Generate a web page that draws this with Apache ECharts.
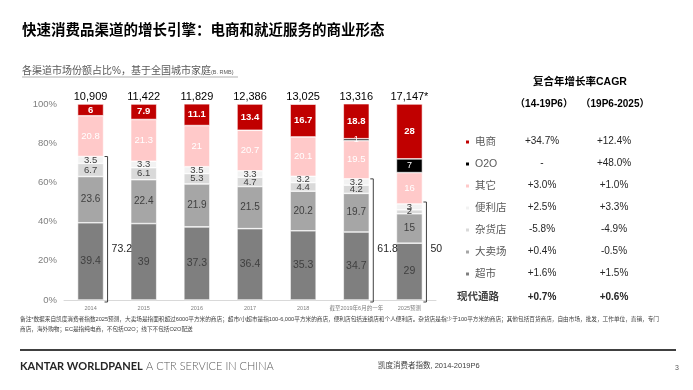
<!DOCTYPE html>
<html><head><meta charset="utf-8">
<script src="https://cdn.jsdelivr.net/npm/echarts@6/dist/echarts.min.js"></script>
<style>html,body{margin:0;padding:0;background:#fff}#c{width:693px;height:390px}</style>
</head><body><div id="c"></div>
<script>
const years = ['2014','2015','2016','2017','2018','截至2019年6月的一年','2025预测'];
const totals = ['10,909','11,422','11,829','12,386','13,025','13,316','17,147*'];
const chaoshi = [39.4, 39, 37.3, 36.4, 35.3, 34.7, 29];
const maichang = [23.6, 22.4, 21.9, 21.5, 20.2, 19.7, 15];
const zahuo = [6.7, 6.1, 5.3, 4.7, 4.4, 4.2, 2];
const bianli = [3.5, 3.3, 3.5, 3.3, 3.2, 3.2, 3];
const qita = [20.8, 21.3, 21, 20.7, 20.1, 19.5, 16];
const o2o = [null, null, null, null, null, 1, 7];
const dianshang = [6, 7.9, 11.1, 13.4, 16.7, 18.8, 28];
const modernTotals = [[0, 73.2], [5, 61.8], [6, 50]];
const legendNames = ['电商','O2O','其它','便利店','杂货店','大卖场','超市'];
const cagr1 = ['+34.7%','-','+3.0%','+2.5%','-5.8%','+0.4%','+1.6%','+0.7%'];
const cagr2 = ['+12.4%','+48.0%','+1.0%','+3.3%','-4.9%','-0.5%','+1.5%','+0.6%'];
const footLine1 = '备注*数据来自凯度消费者指数2025预测，大卖场是指面积超过6000平方米的商店；超市/小超市是指100-6,000平方米的商店，便利店包括连锁店和个人便利店。杂货店是指少于100平方米的商店；其他包括百货商店，自由市场，批发，工作单位，直销，专门';
const footLine2 = '商店，海外购物；EC是指纯电商，不包括O2O；线下不包括O2O配送';

const FF = '"Liberation Sans", Arial, "Noto Sans CJK SC", sans-serif';
const chart = echarts.init(document.getElementById('c'), null, {renderer: 'canvas'});

function barSeries(name, data, color, labelColor, bold, fs) {
  return {
    name, type: 'bar', stack: 'share', data, barWidth: 26,
    itemStyle: {color, borderColor: '#fff', borderWidth: 0.6},
    label: {show: true, position: 'inside', color: labelColor, fontSize: fs || 10,
      fontWeight: bold ? 'bold' : 'normal', fontFamily: FF,
      formatter: p => (p.value == null ? '' : String(p.value))},
    emphasis: {disabled: true}
  };
}

const rowY = [141, 163, 185, 207, 229, 251, 273, 297];
const graphics = [
  {type: 'text', left: 22, top: 24, style: {text: '快速消费品渠道的增长引擎：电商和就近服务的商业形态', fontSize: 14.5, fontWeight: 'bold', fill: '#000', fontFamily: FF}},
  {type: 'text', left: 22, top: 66, style: {text: '各渠道市场份额占比%，基于全国城市家庭', fontSize: 10, fill: '#595959', fontFamily: FF}},
  {type: 'text', left: 211, top: 70, style: {text: '(B. RMB)', fontSize: 5.5, fill: '#595959', fontFamily: FF}},
  {type: 'line', shape: {x1: 22, y1: 77, x2: 238, y2: 77}, style: {stroke: '#8c8c8c', lineWidth: 0.7}},
  {type: 'text', x: 580, y: 82, style: {text: '复合年增长率CAGR', fontSize: 10.5, fontWeight: 'bold', fill: '#000', fontFamily: FF, align: 'center', verticalAlign: 'middle'}},
  {type: 'text', x: 544, y: 104, style: {text: '（14-19P6）', fontSize: 10, fontWeight: 'bold', fill: '#000', fontFamily: FF, align: 'center', verticalAlign: 'middle'}},
  {type: 'text', x: 615, y: 104, style: {text: '（19P6-2025）', fontSize: 10, fontWeight: 'bold', fill: '#000', fontFamily: FF, align: 'center', verticalAlign: 'middle'}},
  {type: 'text', x: 457, y: 297, style: {text: '现代通路', fontSize: 10.5, fontWeight: 'bold', fill: '#404040', fontFamily: FF, verticalAlign: 'middle'}},
  {type: 'text', left: 20, top: 317, style: {text: footLine1, fontSize: 5.65, fill: '#404040', fontFamily: FF}},
  {type: 'text', left: 20, top: 327, style: {text: footLine2, fontSize: 5.65, fill: '#404040', fontFamily: FF}},
  {type: 'line', shape: {x1: 20, y1: 350, x2: 676, y2: 350}, style: {stroke: '#404040', lineWidth: 2}},
  {type: 'text', left: 20, top: 360, style: {text: '{b|KANTAR WORLDPANEL} {l|A CTR SERVICE IN CHINA}', rich: {
      b: {fontSize: 11, fontWeight: 'bold', fill: '#262626', fontFamily: 'Lato, "Liberation Sans", sans-serif'},
      l: {fontSize: 11, fontWeight: 300, fill: '#595959', fontFamily: 'Lato, "Liberation Sans", sans-serif'}}}},
  {type: 'text', left: 378, top: 362, style: {text: '凯度消费者指数, 2014-2019P6', fontSize: 7.5, fill: '#404040', fontFamily: FF}},
  {type: 'text', left: 675, top: 365, style: {text: '3', fontSize: 7, fill: '#595959', fontFamily: FF}}
];
for (let i = 0; i < rowY.length; i++) {
  const bold = i === rowY.length - 1;
  graphics.push({type: 'text', x: 542, y: rowY[i], style: {text: cagr1[i], fontSize: 10, fontWeight: bold ? 'bold' : 'normal', fill: '#262626', fontFamily: FF, align: 'center', verticalAlign: 'middle'}});
  graphics.push({type: 'text', x: 614, y: rowY[i], style: {text: cagr2[i], fontSize: 10, fontWeight: bold ? 'bold' : 'normal', fill: '#262626', fontFamily: FF, align: 'center', verticalAlign: 'middle'}});
}

const option = {
  animation: false,
  backgroundColor: '#fff',
  grid: {left: 64, right: 257, top: 104, bottom: 90},
  legend: {
    data: legendNames, orient: 'vertical', left: 459, top: 131,
    icon: 'rect', itemWidth: 5, itemHeight: 5, itemGap: 10,
    textStyle: {fontSize: 10.5, color: '#595959', fontFamily: FF, lineHeight: 12},
    selectedMode: false
  },
  xAxis: [
    {type: 'category', data: years, position: 'bottom',
      axisLine: {lineStyle: {color: '#d9d9d9'}}, axisTick: {show: false},
      axisLabel: {fontSize: 5.5, color: '#7f7f7f', margin: 6, interval: 0, fontFamily: FF}},
    {type: 'category', data: totals, position: 'top',
      axisLine: {show: false}, axisTick: {show: false},
      axisLabel: {fontSize: 11, color: '#000', margin: 2, interval: 0, fontFamily: FF}}
  ],
  yAxis: {type: 'value', min: 0, max: 100, interval: 20,
    axisLine: {show: false}, axisTick: {show: false}, splitLine: {show: false},
    axisLabel: {formatter: '{value}%', fontSize: 9.5, color: '#7f7f7f', margin: 7, fontFamily: FF}},
  series: [
    barSeries('超市', chaoshi, '#7f7f7f', '#404040', false, 10.5),
    barSeries('大卖场', maichang, '#a6a6a6', '#404040', false, 10),
    barSeries('杂货店', zahuo, '#d9d9d9', '#404040', false, 9.5),
    barSeries('便利店', bianli, '#f2f2f2', '#404040', false, 9.5),
    barSeries('其它', qita, '#ffc9c9', '#ffffff', false, 9.5),
    barSeries('O2O', o2o, '#000000', '#ffffff', false, 9),
    barSeries('电商', dianshang, '#c00000', '#ffffff', true, 9.5),
    {
      name: 'bracket', type: 'custom', data: modernTotals, z: 10, silent: true,
      renderItem: function (params, api) {
        const i = api.value(0), v = api.value(1);
        const top = api.coord([i, v]);
        const bot = api.coord([i, 0]);
        const x = top[0] + 17;
        const ly = api.coord([i, 26])[1];
        return {type: 'group', children: [
          {type: 'polyline', shape: {points: [[x - 3, top[1]], [x, top[1]], [x, bot[1] + 2], [x - 3, bot[1] + 2]]},
            style: {stroke: '#404040', fill: null, lineWidth: 1}},
          {type: 'text', x: x + 4, y: ly, style: {text: String(v), fill: '#262626', fontSize: 10.5, fontFamily: FF, verticalAlign: 'middle'}}
        ]};
      }
    }
  ],
  graphic: graphics
};
chart.setOption(option);
</script></body></html>
